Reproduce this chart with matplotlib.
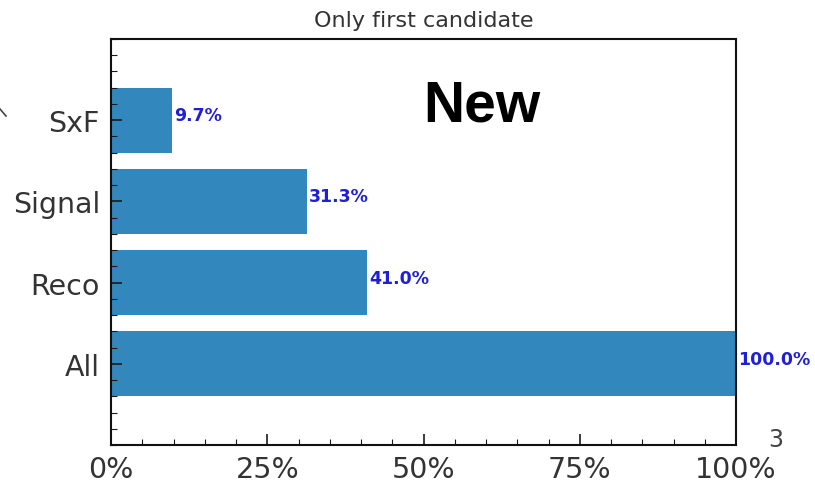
import matplotlib
matplotlib.use("Agg")
import matplotlib.pyplot as plt
from matplotlib.ticker import MultipleLocator, PercentFormatter
from matplotlib.lines import Line2D

categories = ["All", "Reco", "Signal", "SxF"]
fractions = [100.0, 41.0, 31.3, 9.7]
x_ticks = [0, 25, 50, 75, 100]

bar_color = "#3288bd"
label_color = "#1f1fd6"
text_color = "#333333"

fig = plt.figure(figsize=(8.15, 4.85), dpi=100)
ax = fig.add_axes([111 / 815, 1 - 446 / 485, 625 / 815, 406 / 485])

ypos = list(range(len(categories)))
ax.barh(ypos, fractions, height=0.8, color=bar_color)

for y, v in zip(ypos, fractions):
    ax.text(v + 0.4, y, f"{v:.1f}%", color=label_color, fontsize=12.5,
            fontweight="bold", va="baseline", ha="left", clip_on=False)

ax.set_xlim(0, 100)
ax.set_ylim(-1, 4)
ax.set_yticks(ypos)
ax.set_yticklabels(categories)
ax.set_xticks(x_ticks)
ax.xaxis.set_major_formatter(PercentFormatter(decimals=0))
ax.xaxis.set_minor_locator(MultipleLocator(5))
ax.yaxis.set_minor_locator(MultipleLocator(0.2))

ax.tick_params(which="both", direction="in", top=False, right=False,
               labelsize=20.5, labelcolor=text_color, color="#1a1a1a")
ax.tick_params(which="major", length=8, width=1.2)
ax.tick_params(which="minor", length=4, width=0.8)
ax.tick_params(axis="x", pad=7)
ax.tick_params(axis="y", pad=8)
for s in ax.spines.values():
    s.set_linewidth(1.5)
    s.set_color("#111111")

ax.set_title("Only first candidate", fontsize=16, color=text_color, pad=9)

fig.text(482 / 815, 1 - 107 / 485, "New", fontsize=41, fontweight="bold",
         family="Liberation Sans", ha="center", va="center", color="black")
fig.text(776 / 815, 1 - 440 / 485, "3", fontsize=17, color="#444444",
         ha="center", va="center")

fig.add_artist(Line2D([0 / 815, 6 / 815], [1 - 110 / 485, 1 - 117 / 485],
                      color="#444444", linewidth=1.2))

fig.savefig("out.png", dpi=100)
